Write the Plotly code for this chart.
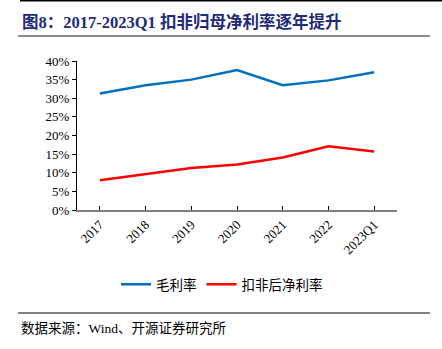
import plotly.graph_objects as go

categories = ["2017", "2018", "2019", "2020", "2021", "2022", "2023Q1"]
gross_margin = [31.3, 33.5, 35.0, 37.6, 33.5, 34.8, 37.0]
net_margin = [8.0, 9.7, 11.3, 12.2, 14.1, 17.1, 15.7]
y_ticks = [0, 5, 10, 15, 20, 25, 30, 35, 40]
y_tick_text = [f"{v}%" for v in y_ticks]

serif = "Liberation Serif, Times New Roman, serif"
cjk = "Noto Sans CJK SC"

fig = go.Figure()
fig.add_trace(go.Scatter(x=categories, y=gross_margin, mode="lines", name="毛利率",
                         line=dict(color="#0070C0", width=2.5)))
fig.add_trace(go.Scatter(x=categories, y=net_margin, mode="lines", name="扣非后净利率",
                         line=dict(color="#FF0000", width=2.5)))

plot_h = 349 - 61 - 139
plot_w = 442 - 77 - 45

def px_x(x):
    return (x - 77) / plot_w

def px_y(y):
    return (349 - 139 - y) / plot_h

fig.update_layout(
    width=442, height=349,
    margin=dict(l=77, r=45, t=61, b=139),
    paper_bgcolor="white", plot_bgcolor="white",
    showlegend=True,
    legend=dict(orientation="h", x=px_x(222), xanchor="center", y=px_y(269), yanchor="top",
                font=dict(family=cjk, size=13.5, color="#000000"),
                itemwidth=30, tracegroupgap=0),
    xaxis=dict(type="category", showline=True, linecolor="#808080", linewidth=2,
               ticks="inside", ticklen=4, tickcolor="#000000",
               tickangle=-45, showgrid=False, zeroline=False,
               tickfont=dict(family=serif, size=13, color="#000000"),
               range=[-0.5, 6.5]),
    yaxis=dict(range=[0, 40], tickvals=y_ticks, ticktext=y_tick_text,
               showline=True, linecolor="#000000", linewidth=1,
               ticks="outside", ticklen=4, tickcolor="#000000",
               showgrid=False, zeroline=False,
               tickfont=dict(family=serif, size=13, color="#000000")),
)

fig.add_shape(type="line", xref="paper", yref="paper", x0=px_x(20), x1=px_x(442),
              y0=px_y(0.5), y1=px_y(0.5), line=dict(color="#000000", width=2))
fig.add_shape(type="line", xref="paper", yref="paper", x0=px_x(18), x1=px_x(430),
              y0=px_y(36), y1=px_y(36), line=dict(color="#8C8C8C", width=2))
fig.add_shape(type="line", xref="paper", yref="paper", x0=px_x(18), x1=px_x(430),
              y0=px_y(313), y1=px_y(313), line=dict(color="#000000", width=1.2))

fig.add_annotation(xref="paper", yref="paper", x=px_x(20), y=px_y(22),
                   xanchor="left", yanchor="middle", showarrow=False,
                   text="<b>图8：2017-2023Q1 扣非归母净利率逐年提升</b>",
                   font=dict(family="Liberation Serif, " + cjk, size=16.5, color="#1F2A78"))
fig.add_annotation(xref="paper", yref="paper", x=px_x(19), y=px_y(328),
                   xanchor="left", yanchor="middle", showarrow=False,
                   text="数据来源：Wind、开源证券研究所",
                   font=dict(family="Liberation Serif, " + cjk, size=13.5, color="#000000"))

fig.write_html("out.html")
